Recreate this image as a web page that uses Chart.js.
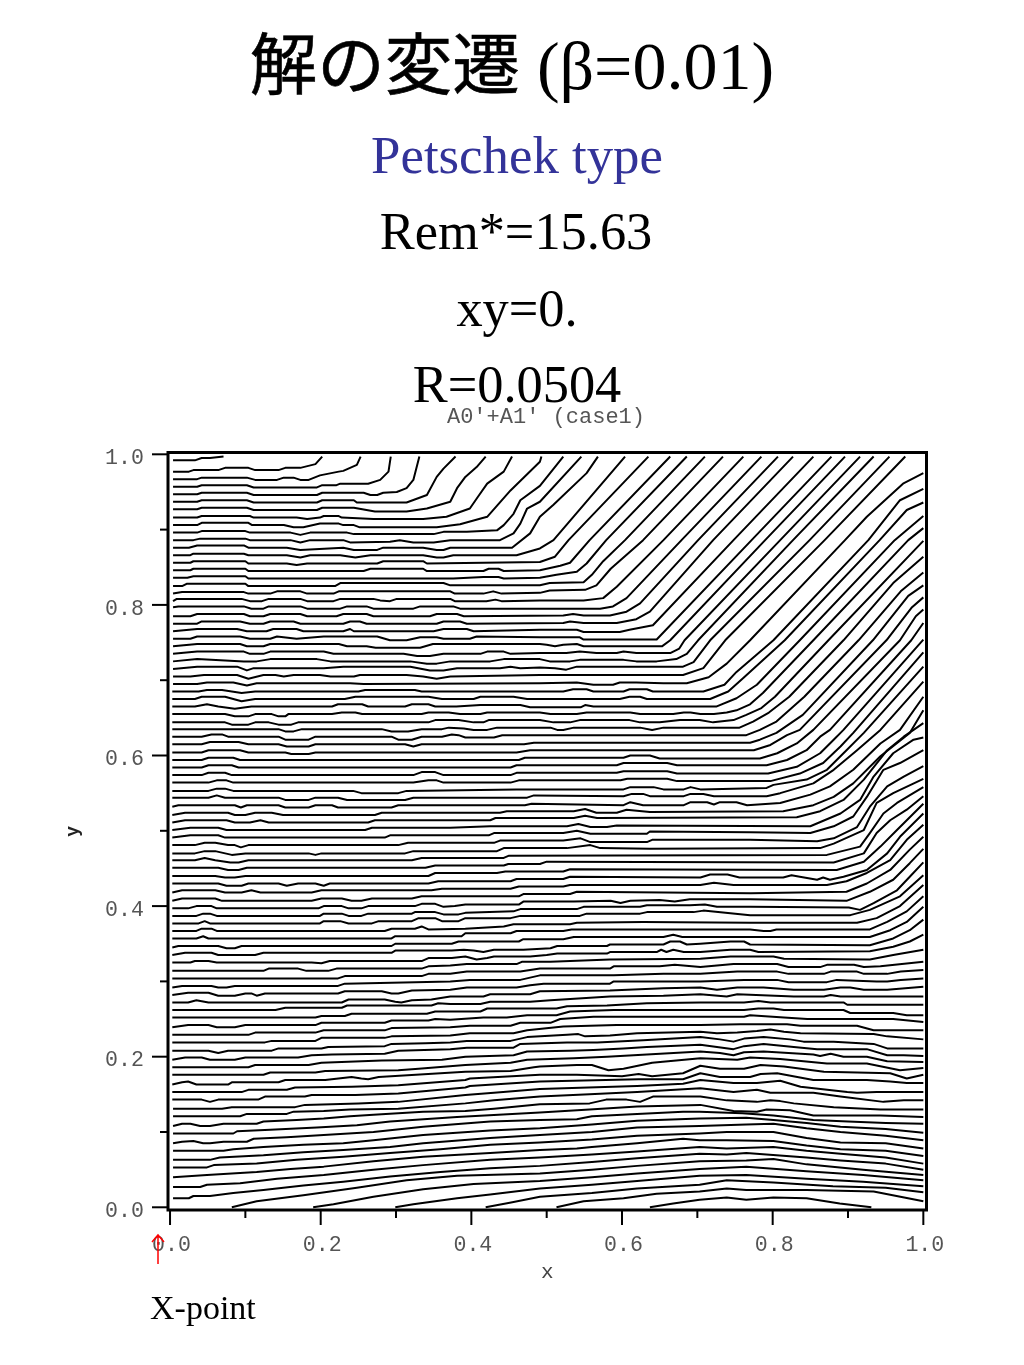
<!DOCTYPE html>
<html>
<head>
<meta charset="utf-8">
<title>解の変遷</title>
<script src="https://cdn.jsdelivr.net/npm/chart.js@4"></script>
<style>
  html, body { margin: 0; padding: 0; background: #fff; }
  #page { position: relative; width: 1024px; height: 1365px; overflow: hidden; }
  canvas { position: absolute; left: 0; top: 0; }
  .line { position: absolute; left: 0; width: 1024px; text-align: center; white-space: pre; color: #000;
          font-family: "Liberation Serif", serif; z-index: 2; }
  .cjk { font-family: "Noto Sans CJK JP", sans-serif; font-size: 67.5px; -webkit-text-stroke: 0.6px #000; }
</style>
</head>
<body>
<div id="page">
  <div class="line" style="top:15px;left:0;font-size:68px;line-height:90px"><span class="cjk">解の変遷</span> (β=0.01)</div>
  <div class="line" style="top:125px;left:5px;font-size:52.8px;line-height:60px;color:#333399">Petschek type</div>
  <div class="line" style="top:201px;left:4px;font-size:52.4px;line-height:60px">Rem*=15.63</div>
  <div class="line" style="top:278px;left:5px;font-size:52.4px;line-height:60px">xy=0.</div>
  <div class="line" style="top:354px;left:5px;font-size:52.4px;line-height:60px">R=0.0504</div>
  <div class="line" style="top:405px;font:22px/26px 'Liberation Mono',monospace;color:#555;left:34px">A0'+A1' (case1)</div>
  <div class="line" style="top:1288px;left:150px;width:auto;font-size:34px;line-height:40px">X-point</div>
  <canvas id="chart" width="1024" height="1365"></canvas>
</div>
<script>
// contour polylines, flat x,y pairs in thousandths of an axis unit

// lines that leave through the top edge
const topLines = [
  [4,992,33,992,42,995,53,995,71,997],
  [4,977,25,977,31,979,64,979,73,982,104,982,113,979,144,979,153,982,173,982,193,987,202,997],
  [4,967,36,967,42,969,102,969,113,966,142,966,151,969,164,969,173,966,184,966,199,972,224,977,230,978,248,986,253,997],
  [4,957,36,957,42,959,102,959,111,956,195,956,202,959,221,959,226,961,263,961,279,966,290,977,293,997],
  [4,947,36,947,42,949,102,949,111,946,195,946,202,949,257,949,266,946,275,946,283,949,301,950,314,955,323,966,331,997],
  [4,937,36,937,42,939,102,939,111,936,195,936,202,939,244,939,248,936,314,936,341,946,354,970,363,981,379,997],
  [4,927,36,927,42,929,102,929,111,926,195,926,202,929,244,929,272,924,314,924,341,928,372,937,381,955,392,970,407,983,419,997],
  [4,916,36,916,42,918,106,918,111,916,168,916,182,914,199,916,204,918,224,918,228,916,270,914,336,914,367,917,398,928,409,944,421,961,443,977,454,997],
  [4,906,36,906,42,909,104,909,109,906,151,906,164,903,177,903,199,908,224,908,230,906,244,906,252,903,354,903,385,907,421,917,452,952,491,990,493,997],
  [4,896,36,896,42,898,100,898,106,896,160,896,173,893,186,896,235,896,244,894,350,894,363,897,394,897,434,899,443,906,456,921,465,939,491,958,522,997],
  [4,886,31,886,40,888,100,888,106,886,160,886,173,883,186,886,230,886,239,883,292,884,305,886,323,883,350,883,372,886,438,886,456,895,465,908,474,928,491,937,546,997],
  [4,876,25,876,36,879,98,879,104,876,155,876,173,873,230,876,244,873,275,873,283,876,336,876,354,873,363,873,372,876,454,876,478,895,491,917,509,933,553,975,568,997],
  [4,866,27,866,31,868,98,868,104,866,155,866,173,863,186,866,226,866,246,863,266,866,336,866,354,863,363,863,376,866,460,866,491,875,509,886,604,997],
  [4,856,27,856,31,858,100,858,104,855,155,855,168,853,182,855,275,855,283,858,336,858,341,855,491,857,511,864,529,886,635,997],
  [4,846,27,846,31,848,100,848,104,845,257,845,266,848,336,848,341,845,416,845,423,848,436,848,443,845,491,846,518,852,531,856,557,886,664,997],
  [4,836,23,836,31,838,100,838,104,835,376,835,416,837,436,837,443,835,491,836,513,840,540,844,553,855,579,886,686,997],
  [4,825,16,825,22,828,100,828,104,825,219,825,226,829,363,829,372,826,491,826,504,829,549,830,560,840,575,858,604,886,710,997],
  [4,815,16,817,98,817,104,815,133,815,142,818,173,818,182,815,217,815,224,818,372,818,378,815,416,815,429,818,440,815,491,816,504,819,551,820,566,826,585,848,628,886,734,997],
  [4,805,9,808,95,808,106,805,122,805,131,808,173,808,182,805,217,805,226,808,270,808,279,806,292,805,301,808,372,808,378,805,420,805,432,807,440,805,491,806,549,806,575,809,593,824,655,886,761,997],
  [4,797,11,798,98,798,108,795,124,795,131,798,173,798,182,795,226,795,235,798,261,798,270,795,323,795,332,798,376,798,385,795,491,795,571,795,588,798,606,809,679,886,785,997],
  [4,785,27,785,36,788,98,788,106,785,124,785,133,788,173,788,182,785,221,785,230,788,261,788,270,785,345,785,354,788,381,788,390,785,522,786,535,788,549,786,584,786,606,791,624,802,701,886,807,997],
  [4,775,36,775,42,778,93,778,106,775,124,775,133,778,164,778,173,775,230,775,239,778,252,778,261,775,354,775,363,778,385,778,394,775,522,776,531,778,549,776,593,776,619,781,637,791,721,886,827,997],
  [4,765,36,768,89,768,102,765,128,765,137,768,168,768,177,765,230,765,239,768,244,765,350,765,363,768,394,768,403,765,491,767,540,767,549,764,597,764,610,767,641,773,748,886,854,997],
  [4,755,27,755,36,758,93,758,106,755,133,755,142,758,168,755,204,758,275,758,292,753,314,753,332,757,354,757,363,755,398,755,407,758,491,757,544,757,549,754,646,754,772,886,878,997],
  [4,745,36,748,93,748,102,745,124,745,133,748,224,748,235,745,261,745,273,743,332,743,349,748,491,748,500,747,511,745,522,747,540,748,549,745,653,745,664,753,790,886,896,997],
  [4,735,36,738,98,738,106,735,124,735,133,738,204,738,217,735,310,735,328,732,345,732,363,735,412,735,421,738,443,738,452,735,491,736,526,736,544,738,566,736,593,736,602,738,619,736,664,736,676,742,683,753,810,886,916,997],
  [4,725,36,728,98,725,115,725,133,728,195,728,213,725,319,725,341,722,354,722,372,725,425,725,443,728,491,728,504,725,531,725,544,727,602,727,619,725,646,725,672,728,686,735,701,753,827,886,934,997],
  [4,715,36,718,89,718,102,713,111,716,204,716,230,718,319,718,345,713,363,713,381,716,438,716,452,718,465,716,491,717,511,716,526,714,540,718,681,718,695,724,717,753,849,886,955,997],
  [4,705,27,705,45,707,89,707,104,702,124,707,140,707,151,705,164,707,199,707,213,705,244,705,252,707,314,707,336,705,354,702,372,705,491,707,681,707,708,716,737,753,869,886,976,997]
];

// lines that bend up into the right edge
const kneeLines = [
  [4,695,36,695,49,697,84,697,102,693,115,696,239,696,257,695,491,696,540,697,562,694,588,694,597,697,619,697,655,696,686,696,715,704,739,722,770,753,896,886,925,917,973,961,1000,975],
  [3,685,38,685,49,687,69,687,95,683,113,685,250,685,259,687,325,687,334,685,522,685,535,688,553,688,562,685,602,685,610,688,633,688,641,685,708,685,736,694,752,711,801,753,927,886,969,939,1000,954],
  [3,675,33,675,42,678,73,678,95,672,113,675,232,675,246,678,343,678,361,675,403,675,412,678,456,678,474,675,597,675,610,678,624,678,633,675,717,675,741,685,761,703,816,753,942,886,978,926,1000,936],
  [3,665,33,665,49,668,64,665,86,662,108,665,215,665,223,668,255,668,263,665,312,665,321,668,343,668,352,665,380,665,412,667,465,667,478,664,545,664,551,667,562,665,725,665,752,676,779,694,836,753,962,886,1000,918],
  [3,655,73,655,86,652,104,652,113,655,135,655,144,652,153,652,157,655,215,655,228,657,246,657,255,655,334,655,343,657,370,657,385,655,412,655,421,657,491,657,505,655,540,655,553,657,611,657,624,655,668,655,682,657,691,657,704,655,722,655,739,657,752,660,770,668,787,683,854,753,980,886,1000,902],
  [3,644,73,644,82,641,104,641,113,644,131,644,144,641,161,641,170,644,343,644,352,647,383,647,403,644,416,644,423,647,491,647,509,644,531,644,544,647,610,647,624,644,650,644,677,647,703,647,721,644,748,647,765,654,785,663,803,678,874,753,1000,885],
  [3,635,144,635,153,632,164,632,175,635,281,635,294,632,316,632,334,635,361,635,370,637,390,636,403,634,421,634,434,637,505,637,514,634,522,634,536,637,624,637,640,634,655,637,756,637,774,645,795,657,822,678,894,753,960,829,1000,864],
  [3,625,42,625,55,628,69,628,77,625,144,625,153,621,184,621,193,625,294,625,303,621,321,621,334,625,361,625,374,628,383,627,392,624,430,624,441,627,765,627,783,634,805,645,842,678,914,753,970,818,1000,843],
  [3,615,42,615,53,618,91,618,104,615,144,615,155,612,184,612,193,615,312,615,323,612,334,615,470,615,483,617,770,617,783,621,805,630,840,654,933,753,980,812,1000,826],
  [3,604,42,604,51,607,93,607,104,604,153,604,161,602,184,602,193,604,460,604,478,607,775,607,797,614,819,627,836,634,951,753,985,797,1000,810],
  [3,594,42,594,51,597,84,597,93,594,463,594,471,597,602,597,611,600,637,600,650,596,783,596,806,603,832,616,854,634,969,753,990,785,1000,794],
  [3,584,42,584,51,587,82,587,91,584,452,584,460,587,593,587,602,590,660,590,673,587,792,587,819,594,845,607,863,625,876,634,984,753,1000,776],
  [3,574,42,574,51,577,73,577,82,574,323,574,334,578,352,578,363,574,452,574,460,577,593,577,602,579,660,579,673,576,794,576,832,585,863,603,881,621,894,634,1000,754],
  [3,564,51,564,62,567,75,567,84,564,323,564,343,567,354,567,363,564,452,564,463,567,598,567,607,569,660,569,673,566,797,566,836,576,867,590,890,612,907,630,1000,737],
  [3,553,51,553,62,556,73,556,84,553,243,553,254,550,303,550,314,553,460,555,602,555,611,558,642,558,655,555,682,555,691,558,704,555,792,557,801,561,845,568,872,581,898,607,921,630,1000,718],
  [3,544,51,544,62,547,73,544,144,544,153,541,184,541,193,544,223,544,235,541,312,541,323,544,474,544,483,547,602,546,613,549,628,549,637,546,682,546,691,549,708,549,722,546,792,546,810,550,854,563,881,581,912,607,943,634,1000,698],
  [3,532,11,534,86,534,94,531,102,534,144,534,153,531,184,531,193,534,215,534,223,531,294,531,303,534,471,534,480,536,602,534,611,538,628,534,682,534,691,538,713,538,722,535,730,538,752,538,766,534,810,537,850,548,876,559,907,581,943,616,969,634,1000,678],
  [3,521,20,524,77,524,86,521,100,521,113,524,135,524,150,521,272,521,281,524,438,524,447,526,536,526,551,529,566,524,593,524,606,528,637,525,814,526,854,534,881,545,907,563,943,599,982,630,1000,660],
  [3,511,20,514,75,514,86,511,106,511,120,514,131,511,263,511,272,514,425,514,432,517,536,517,551,520,567,517,832,518,863,526,894,541,921,568,952,607,974,625,1000,643],
  [3,501,27,504,64,504,75,501,259,501,268,504,372,504,425,506,527,506,542,509,558,505,580,505,593,507,850,506,890,523,916,541,934,572,960,603,987,621,1000,624],
  [3,491,27,494,64,494,73,491,285,491,292,494,423,494,430,497,522,497,540,500,558,496,633,496,637,499,770,498,850,497,881,506,907,519,925,545,947,581,969,590,1000,607],
  [3,481,33,481,46,484,60,484,77,481,86,481,94,478,104,481,303,481,316,484,430,484,438,487,522,487,545,490,558,485,633,485,640,488,770,488,859,486,881,490,912,505,929,532,952,559,974,572,1000,586],
  [3,470,33,470,46,473,60,473,82,468,100,470,184,470,193,468,201,470,312,470,323,473,434,473,443,477,527,477,558,481,571,477,637,476,863,477,881,483,921,501,938,537,960,550,1000,569],
  [3,461,33,461,46,464,60,461,80,458,91,458,104,461,321,461,334,464,443,464,450,467,872,468,916,479,929,497,947,523,965,537,1000,558],
  [3,451,64,451,77,448,91,448,102,451,339,451,352,454,443,454,449,456,491,456,500,459,881,458,921,470,938,497,956,514,978,528,1000,546],
  [3,440,60,440,73,438,86,438,100,440,343,440,352,444,434,444,445,446,522,446,531,449,885,448,921,459,943,479,965,501,1000,536],
  [3,430,64,430,75,427,95,427,104,430,144,430,155,427,170,430,193,430,204,427,212,430,343,430,356,433,452,433,460,436,522,436,531,439,704,438,717,442,740,442,756,438,814,438,825,441,836,439,859,435,867,438,876,435,894,439,925,448,952,470,969,492,1000,523],
  [3,418,16,421,60,421,73,418,95,418,108,421,120,418,188,418,201,421,347,421,361,423,452,423,463,426,522,426,531,428,704,428,722,431,748,428,872,428,898,433,925,444,956,461,978,488,1000,508],
  [3,407,16,410,60,410,69,407,188,407,201,410,228,410,241,407,254,407,268,410,321,410,334,413,463,413,469,416,531,416,540,419,771,417,898,419,925,430,956,448,982,475,1000,492],
  [3,397,24,397,35,400,55,400,62,397,197,397,204,400,228,400,237,397,254,397,263,400,325,400,334,403,352,403,363,399,378,400,392,402,463,402,469,406,536,406,585,407,598,404,611,407,650,408,670,406,690,409,770,409,898,407,929,419,960,435,982,457,1000,476]
];

// lines that stay close to level and run out through the right edge
const levelLines = [
  [3,387,35,387,44,390,53,390,62,387,199,387,204,390,228,390,237,387,254,387,263,390,321,390,325,392,352,392,363,389,383,389,392,391,456,393,465,396,540,396,549,399,624,399,633,401,690,401,710,402,726,399,770,399,901,398,916,395,934,404,965,421,982,439,1000,458],
  [3,377,38,377,46,380,53,377,199,377,204,380,226,380,237,377,268,377,277,380,321,380,330,384,352,384,361,380,383,380,392,384,452,384,465,387,544,387,553,390,624,390,633,392,695,392,708,394,770,388,903,388,929,395,969,413,1000,441],
  [3,367,35,367,42,370,55,370,62,367,285,367,294,370,325,370,334,373,343,369,392,370,443,373,456,376,531,376,540,378,628,379,770,378,903,378,912,378,938,384,969,400,1000,428],
  [3,357,35,357,44,360,51,357,294,357,299,360,387,360,392,364,452,364,460,367,522,367,533,369,770,369,788,367,797,367,805,369,929,369,952,379,978,393,1000,413],
  [3,345,11,347,64,347,75,344,86,344,95,347,294,347,299,350,374,350,383,353,463,353,469,356,522,356,536,359,655,359,668,362,680,359,929,359,956,368,978,379,1000,399],
  [3,335,20,338,55,338,64,335,113,335,124,338,294,338,299,341,374,341,390,342,403,341,416,339,430,342,469,342,505,344,514,347,580,347,584,349,655,349,664,353,677,353,686,349,704,350,744,353,762,353,770,349,929,348,960,357,982,368,1000,382],
  [3,325,27,325,33,327,51,327,62,325,188,325,201,324,212,327,334,327,343,331,374,331,392,333,407,329,421,331,430,333,478,333,500,335,514,337,580,337,584,339,646,339,652,342,659,339,668,342,682,339,704,339,744,342,770,342,781,339,929,340,960,346,982,353,1000,362],
  [3,314,124,314,131,317,170,317,181,314,210,314,221,317,334,317,343,320,372,321,394,323,460,323,467,326,505,326,584,329,704,330,744,333,801,333,815,330,929,329,960,335,1000,342],
  [3,304,223,304,232,307,334,307,343,310,372,310,394,313,465,313,491,317,584,317,589,320,650,320,670,322,704,319,748,323,806,323,821,319,863,319,872,322,908,322,921,319,943,320,1000,326],
  [3,292,16,294,55,294,64,292,75,292,86,294,223,294,232,297,372,300,398,302,465,302,491,308,589,308,655,310,704,310,753,313,806,313,821,310,868,310,877,313,912,313,921,310,952,310,970,313,1000,315],
  [3,282,24,285,51,285,64,281,86,281,100,284,108,284,115,281,126,284,223,284,232,287,281,287,294,284,303,284,321,288,372,289,394,292,460,292,478,295,496,297,584,297,589,300,655,300,704,300,762,302,806,302,821,299,872,299,885,302,938,300,952,300,970,302,1000,304],
  [3,272,24,272,35,275,51,272,228,272,237,276,285,276,299,273,307,272,321,275,347,276,372,280,416,280,425,283,478,283,491,287,584,288,655,291,704,292,726,289,753,292,788,292,828,289,868,289,890,292,903,292,921,289,952,289,1000,293],
  [3,262,140,262,153,265,228,265,235,268,347,268,356,271,372,270,412,270,425,273,478,273,505,275,584,280,655,281,704,283,739,280,753,283,828,280,868,280,877,282,890,280,947,280,1000,280],
  [3,252,193,252,201,254,232,254,241,257,341,257,352,260,412,260,421,264,513,264,527,267,580,268,633,271,704,272,762,272,781,274,797,272,894,272,899,269,956,269,1000,269],
  [3,239,24,242,51,242,62,239,86,239,100,242,193,242,201,245,285,245,294,248,343,248,352,250,372,249,416,252,447,252,474,255,513,255,531,260,589,262,704,262,762,262,781,264,801,264,815,262,894,262,903,258,960,258,978,255,1000,255],
  [3,229,104,229,113,232,193,232,204,235,285,235,294,238,372,239,398,241,452,241,465,245,505,245,518,250,562,253,704,253,762,253,770,255,815,252,846,250,916,250,960,250,1000,246],
  [3,219,126,219,135,221,193,221,201,225,285,225,294,227,372,228,398,231,456,231,474,235,522,240,593,242,704,242,757,243,819,243,837,241,912,241,934,235,1000,235],
  [3,208,51,208,64,205,77,208,135,208,144,211,201,211,210,213,285,214,294,217,339,218,372,219,394,221,452,221,474,226,527,229,542,230,551,227,584,228,620,231,704,233,726,231,753,232,779,234,797,236,815,233,837,231,934,230,952,227,1000,223],
  [3,196,20,199,42,199,53,196,86,196,100,199,170,199,188,202,215,203,285,204,303,208,372,210,394,212,456,212,465,217,527,219,567,219,628,222,704,226,730,223,748,220,762,224,788,226,823,223,841,220,881,220,934,217,952,211,974,211,1000,211],
  [3,186,104,186,113,189,184,189,201,192,281,195,361,196,392,200,456,202,474,207,531,208,562,209,602,211,633,213,704,216,748,210,762,214,788,217,828,213,859,210,925,210,952,202,974,202,1000,201],
  [3,176,124,176,133,179,193,179,206,181,303,182,330,184,392,189,452,192,474,196,536,198,580,200,633,203,704,207,730,205,748,202,762,206,788,207,854,203,863,201,877,204,894,200,925,200,952,194,1000,193],
  [3,163,16,166,24,167,35,163,77,163,82,166,144,166,153,169,206,169,241,173,254,171,263,170,277,173,392,180,452,181,483,186,491,187,540,189,560,189,582,182,602,184,640,192,704,198,753,196,770,199,810,197,872,191,925,191,969,182,1000,185],
  [3,153,95,153,104,156,155,156,166,159,241,160,303,162,392,169,398,171,491,176,540,176,600,174,622,177,640,174,681,178,704,188,730,184,762,184,784,189,815,187,868,180,956,178,978,171,1000,176],
  [3,143,42,143,53,140,64,143,117,143,126,147,179,147,188,149,246,149,303,151,392,159,398,161,491,167,622,170,681,170,704,178,730,173,770,173,784,177,806,178,854,169,925,169,956,167,978,165,1000,165],
  [4,131,69,131,82,133,166,133,179,136,250,138,303,140,392,149,430,152,491,157,620,161,681,164,704,169,748,165,779,165,810,168,837,160,899,153,912,152,938,153,974,153,1000,153],
  [4,121,93,121,102,124,155,124,164,127,204,128,239,130,303,131,392,138,430,142,491,147,557,150,620,153,704,158,748,153,779,156,797,152,854,152,890,147,947,140,974,142,1000,142]
];

// lines near the bottom, the last ones start on the bottom edge
const bottomLines = [
  [4,108,16,111,27,111,40,108,53,108,71,111,115,111,124,114,168,116,204,118,239,121,270,123,336,127,392,128,430,131,491,137,557,138,579,143,606,143,624,140,641,147,704,147,739,142,779,140,797,142,810,141,828,138,881,133,943,130,1000,130],
  [4,98,84,98,89,101,133,103,195,106,248,109,292,114,381,120,491,126,557,130,620,134,704,136,748,128,779,127,792,130,823,129,854,122,943,122,1000,120],
  [4,85,16,87,31,88,44,85,53,85,71,87,102,87,111,91,155,93,204,96,270,100,336,107,425,114,491,116,540,117,560,121,620,124,681,127,703,127,760,125,801,122,854,116,900,114,950,112,1000,111],
  [4,75,71,75,84,77,124,80,177,83,230,85,270,89,336,96,425,102,491,105,560,110,620,115,703,118,765,119,801,116,845,112,890,107,950,104,1000,99],
  [4,63,53,63,66,66,124,69,177,73,230,76,292,80,336,85,425,92,491,96,560,100,620,106,703,108,765,110,801,111,845,105,890,100,950,95,1000,89],
  [4,53,49,53,58,56,115,58,168,63,230,67,292,72,359,77,425,83,491,86,560,90,620,95,703,98,739,100,801,100,845,92,890,86,950,85,1000,78],
  [4,40,49,43,115,47,160,51,204,54,270,61,336,67,425,72,491,76,540,78,560,80,620,85,681,91,703,89,739,89,801,88,845,82,890,77,950,75,1000,68],
  [4,27,40,27,49,30,93,32,142,38,204,43,270,50,336,56,425,63,491,66,560,70,620,74,703,80,739,78,801,80,845,75,890,71,950,66,1000,58],
  [4,12,25,12,31,15,53,15,84,19,124,23,177,29,230,34,292,41,359,47,425,52,491,55,560,60,620,65,703,71,739,70,765,72,845,66,890,62,950,58,1000,50],
  [82,0,115,8,177,16,248,26,314,36,381,42,491,45,560,50,620,55,703,61,765,62,801,64,845,57,920,50,1000,43],
  [190,0,217,4,270,14,336,24,403,31,491,35,560,40,620,45,703,51,765,54,845,48,920,43,1000,36],
  [299,0,323,4,381,12,425,17,491,25,560,30,620,35,703,42,765,43,845,38,920,34,1000,28],
  [419,0,451,6,491,14,560,19,620,25,703,30,739,36,801,33,880,28,950,26,1000,20],
  [513,0,549,8,602,12,646,18,703,21,739,25,765,23,845,23,934,21,1000,8],
  [637,0,668,5,703,10,739,13,765,10,801,13,845,12,889,5,931,0]
];

const tickValues = [0, 0.1, 0.2, 0.3, 0.4, 0.5, 0.6, 0.7, 0.8, 0.9, 1];
const tickLabels = ['0.0', '', '0.2', '', '0.4', '', '0.6', '', '0.8', '', '1.0'];

const allLines = topLines.concat(kneeLines, levelLines, bottomLines);

function toPoints(flat) {
  const pts = [];
  for (let i = 0; i < flat.length; i += 2) {
    pts.push({ x: flat[i] / 1000, y: flat[i + 1] / 1000 });
  }
  return pts;
}

const datasets = allLines.map(flat => ({
  data: toPoints(flat),
  borderColor: '#000',
  borderWidth: 2,
  pointRadius: 0,
  showLine: true,
  tension: 0,
  borderJoinStyle: 'round',
  fill: false
}));

// frame, tick marks and the red arrow under 0.0
const framePlugin = {
  id: 'frame',
  afterDraw(chart) {
    const ctx = chart.ctx;
    const a = chart.chartArea;
    ctx.save();
    ctx.strokeStyle = '#000';
    ctx.lineWidth = 3;
    ctx.strokeRect(a.left, a.top, a.right - a.left, a.bottom - a.top);

    ctx.lineWidth = 2;
    chart.scales.x.ticks.forEach(t => {
      const px = chart.scales.x.getPixelForValue(t.value);
      ctx.beginPath();
      ctx.moveTo(px, a.bottom);
      ctx.lineTo(px, a.bottom + (t.label ? 15 : 8));
      ctx.stroke();
    });
    chart.scales.y.ticks.forEach(t => {
      const py = chart.scales.y.getPixelForValue(t.value);
      ctx.beginPath();
      ctx.moveTo(a.left, py);
      ctx.lineTo(a.left - (t.label ? 16 : 8), py);
      ctx.stroke();
    });

    ctx.strokeStyle = '#ff0000';
    ctx.lineWidth = 1.5;
    ctx.beginPath();
    ctx.moveTo(158, 1264);
    ctx.lineTo(158, 1235);
    ctx.moveTo(152, 1242);
    ctx.lineTo(158, 1235);
    ctx.lineTo(164, 1242);
    ctx.stroke();
    ctx.restore();
  }
};

const tickFont = { family: "'Liberation Mono', monospace", size: 21.6 };

new Chart(document.getElementById('chart').getContext('2d'), {
  type: 'scatter',
  data: { datasets },
  options: {
    responsive: false,
    animation: false,
    layout: { padding: { left: 63, right: 97.5, top: 452.5, bottom: 80 } },
    plugins: { legend: { display: false }, tooltip: { enabled: false }, title: { display: false } },
    scales: {
      x: {
        type: 'linear',
        min: -0.0027,
        max: 1.0042,
        afterBuildTicks: axis => { axis.ticks = tickValues.map(value => ({ value })); },
        afterFit: axis => { axis.height = 75; },
        grid: { drawOnChartArea: false, tickLength: 15, tickColor: 'transparent' },
        border: { display: false },
        ticks: {
          autoSkip: false,
          maxRotation: 0,
          padding: 7,
          labelOffset: 1.5,
          color: '#555',
          font: tickFont,
          callback: (value, index) => tickLabels[index]
        },
        title: { display: true, text: 'x', color: '#444', font: { family: "'Liberation Mono', monospace", size: 21 }, padding: { top: 0, bottom: 0 } }
      },
      y: {
        type: 'linear',
        min: -0.0036,
        max: 1.0024,
        afterBuildTicks: axis => { axis.ticks = tickValues.map(value => ({ value })); },
        afterFit: axis => { axis.width = 105; },
        grid: { drawOnChartArea: false, tickLength: 15, tickColor: 'transparent' },
        border: { display: false },
        ticks: {
          autoSkip: false,
          padding: 9,
          labelOffset: 4,
          color: '#555',
          font: tickFont,
          callback: (value, index) => tickLabels[index]
        },
        title: { display: true, text: 'y', color: '#222', font: { family: "'Liberation Mono', monospace", size: 18, weight: 'bold' }, padding: 0 }
      }
    }
  },
  plugins: [framePlugin]
});
</script>
</body>
</html>
